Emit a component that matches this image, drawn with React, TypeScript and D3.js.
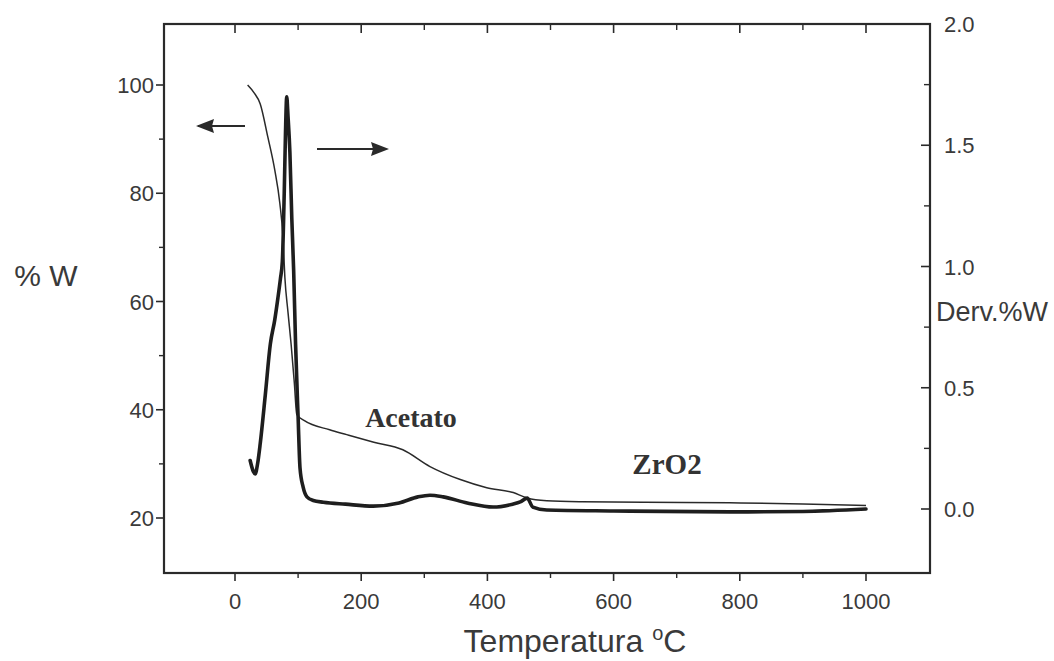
import React from "react";
import * as d3 from "d3";

// TG curve (% weight vs temperature)
const tgTemp = [20, 30, 40, 52, 63, 71, 76, 79, 84, 89, 94, 98, 110, 150, 177, 220, 266, 309, 357, 399, 441, 463, 494, 550, 650, 784, 900, 1000];
const tgWeight = [100, 98.6, 96.5, 90.4, 84.3, 78.2, 71.9, 64.5, 58, 52, 45, 39.1, 38, 36.3, 35.4, 34, 32.6, 29.5, 27.1, 25.6, 24.7, 23.7, 23.2, 23, 22.9, 22.8, 22.6, 22.3];

// DTG curve (derivative % weight vs temperature)
const dtgTemp = [24, 29, 32, 36, 40, 48, 56, 63, 68, 72, 75, 78, 80, 82, 84, 87, 90, 93, 96, 100, 103, 108, 114, 124, 140, 175, 219, 260, 290, 309, 330, 368, 409, 440, 452, 463, 472, 494, 600, 784, 900, 1000];
const dtgValue = [0.2, 0.155, 0.145, 0.19, 0.27, 0.47, 0.68, 0.78, 0.87, 0.95, 1.02, 1.3, 1.55, 1.7, 1.62, 1.47, 1.2, 0.98, 0.68, 0.38, 0.17, 0.09, 0.05, 0.035, 0.028, 0.02, 0.012, 0.025, 0.05, 0.057, 0.05, 0.025, 0.008, 0.02, 0.029, 0.045, 0.008, -0.004, -0.008, -0.012, -0.01, 0.0];

const xMajor = [0, 200, 400, 600, 800, 1000];
const xMinor = [100, 300, 500, 700, 900];
const yLeftMajor = [20, 40, 60, 80, 100];
const yLeftMinor = [30, 50, 70, 90];
const yRightMajor = [0, 0.5, 1.0, 1.5, 2.0];
const yRightMinor = [0.25, 0.75, 1.25, 1.75];

export default function App() {
  const W = 1054, H = 661;
  const left = 164, right = 930, top = 24, bottom = 573;
  const x = d3.scaleLinear().domain([0, 1000]).range([235, 866]);
  const yL = d3.scaleLinear().domain([20, 100]).range([518, 85]);
  const yR = d3.scaleLinear().domain([0, 2]).range([509, 24]);

  const tgLine = d3.line<number>()
    .x((_, i) => x(tgTemp[i]))
    .y((d) => yL(d))
    .curve(d3.curveMonotoneX)(tgWeight) as string;
  const dtgLine = d3.line<number>()
    .x((_, i) => x(dtgTemp[i]))
    .y((d) => yR(d))
    .curve(d3.curveMonotoneX)(dtgValue) as string;

  const stroke = "#2a2a2a";
  const txt = "#3a3a3a";
  const sans = "'Liberation Sans', Arial, Helvetica, sans-serif";
  const serif = "'Liberation Serif', 'Times New Roman', serif";

  return (
    <svg width={W} height={H} style={{ position: "absolute", left: 0, top: 0, background: "#fff" }}>
      <rect x={0} y={0} width={W} height={H} fill="#fff" />
      {/* frame */}
      <rect x={left} y={top} width={right - left} height={bottom - top} fill="none" stroke={stroke} strokeWidth={2.2} />

      {/* bottom axis */}
      {xMajor.map((v) => (
        <g key={"xb" + v}>
          <line x1={x(v)} x2={x(v)} y1={bottom} y2={bottom + 8} stroke={stroke} strokeWidth={1.6} />
          <text x={x(v)} y={609} textAnchor="middle" fontSize={22} fontFamily={sans} fill={txt}>{v}</text>
        </g>
      ))}
      {xMinor.map((v) => (
        <line key={"xbm" + v} x1={x(v)} x2={x(v)} y1={bottom} y2={bottom + 5} stroke={stroke} strokeWidth={1.4} />
      ))}
      {/* top axis */}
      {xMajor.map((v) => (
        <line key={"xt" + v} x1={x(v)} x2={x(v)} y1={top} y2={top + 9} stroke={stroke} strokeWidth={1.6} />
      ))}
      {xMinor.map((v) => (
        <line key={"xtm" + v} x1={x(v)} x2={x(v)} y1={top} y2={top + 6} stroke={stroke} strokeWidth={1.4} />
      ))}

      {/* left axis */}
      {yLeftMajor.map((v) => (
        <g key={"yl" + v}>
          <line x1={left - 8} x2={left} y1={yL(v)} y2={yL(v)} stroke={stroke} strokeWidth={1.6} />
          <text x={left - 10} y={yL(v) + 8} textAnchor="end" fontSize={22} fontFamily={sans} fill={txt}>{v}</text>
        </g>
      ))}
      {yLeftMinor.map((v) => (
        <line key={"ylm" + v} x1={left - 5} x2={left} y1={yL(v)} y2={yL(v)} stroke={stroke} strokeWidth={1.4} />
      ))}

      {/* right axis */}
      {yRightMajor.map((v) => (
        <g key={"yr" + v}>
          <line x1={right - 9} x2={right} y1={yR(v)} y2={yR(v)} stroke={stroke} strokeWidth={1.6} />
          <text x={right + 14} y={yR(v) + 8} textAnchor="start" fontSize={22} fontFamily={sans} fill={txt}>{v.toFixed(1)}</text>
        </g>
      ))}
      {yRightMinor.map((v) => (
        <line key={"yrm" + v} x1={right - 6} x2={right} y1={yR(v)} y2={yR(v)} stroke={stroke} strokeWidth={1.4} />
      ))}

      {/* curves */}
      <path d={tgLine} fill="none" stroke={stroke} strokeWidth={1.5} />
      <path d={dtgLine} fill="none" stroke="#1e1e1e" strokeWidth={3.6} strokeLinejoin="round" strokeLinecap="round" />

      {/* arrows */}
      <line x1={245} y1={126} x2={198} y2={126} stroke={stroke} strokeWidth={2.2} />
      <path d="M196,126 L214,119 L212,126 L214,133 Z" fill={stroke} />
      <line x1={317} y1={149} x2={386} y2={149} stroke={stroke} strokeWidth={2.2} />
      <path d="M389,149 L371,142 L373,149 L371,156 Z" fill={stroke} />

      {/* annotations */}
      <text x={411} y={427} textAnchor="middle" fontSize={28} fontWeight="bold" fontFamily={serif} fill="#333">Acetato</text>
      <text x={667} y={474} textAnchor="middle" fontSize={29} fontWeight="bold" fontFamily={serif} fill="#333">ZrO2</text>

      {/* axis titles */}
      <text x={46} y={286} textAnchor="middle" fontSize={30} fontFamily={sans} fill={txt}>% W</text>
      <text x={992} y={321} textAnchor="middle" fontSize={27} fontFamily={sans} fill={txt}>Derv.%W</text>
      <text x={575} y={652} textAnchor="middle" fontSize={32} fontFamily={sans} fill={txt}>
        Temperatura <tspan dy={-12} fontSize={20}>o</tspan><tspan dy={12}>C</tspan>
      </text>
    </svg>
  );
}
